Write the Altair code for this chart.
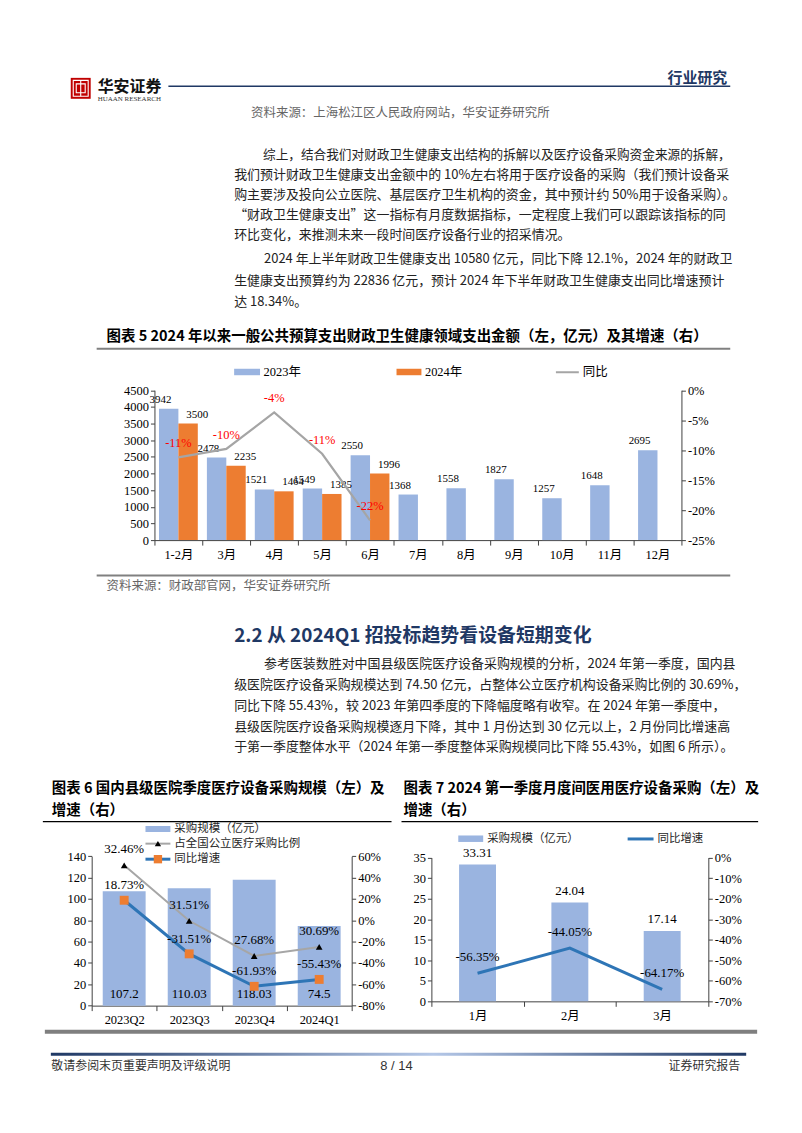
import altair as alt
import pandas as pd

# ---------------- data ----------------
months5 = ["1-2月", "3月", "4月", "5月", "6月", "7月", "8月", "9月", "10月", "11月", "12月"]
years5 = ["2023年", "2024年"]
spend2023 = [3942, 2478, 1521, 1549, 2550, 1368, 1558, 1827, 1257, 1648, 2695]
spend2024 = [3500, 2235, 1464, 1385, 1996]
yoy5 = [-11.2, -9.8, -3.7, -10.6, -21.7]
yoy5_labels = ["-11%", "-10%", "-4%", "-11%", "-22%"]
y5_left_ticks = [0, 500, 1000, 1500, 2000, 2500, 3000, 3500, 4000, 4500]
y5_right_ticks = [-25, -20, -15, -10, -5, 0]
legend5 = ["2023年", "2024年", "同比"]

quarters6 = ["2023Q2", "2023Q3", "2023Q4", "2024Q1"]
scale6 = [107.2, 110.03, 118.03, 74.5]
share6_plot = [51.5, -0.5, -33.5, -25.0]
share6_labels = ["32.46%", "31.51%", "27.68%", "30.69%"]
yoy6 = [18.73, -31.51, -61.93, -55.43]
y6_left_ticks = [0, 20, 40, 60, 80, 100, 120, 140]
y6_right_ticks = [-80, -60, -40, -20, 0, 20, 40, 60]
legend6 = ["采购规模（亿元）", "占全国公立医疗采购比例", "同比增速"]

months7 = ["1月", "2月", "3月"]
scale7 = [33.31, 24.04, 17.14]
yoy7 = [-56.35, -44.05, -64.17]
y7_left_ticks = [0, 5, 10, 15, 20, 25, 30, 35]
y7_right_ticks = [-70, -60, -50, -40, -30, -20, -10, 0]
legend7 = ["采购规模（亿元）", "同比增速"]

header_brand = "华安证券"
header_brand_en = "HUAAN RESEARCH"
header_tag = "行业研究"
src_top = "资料来源：上海松江区人民政府网站，华安证券研究所"
para1 = [
    "综上，结合我们对财政卫生健康支出结构的拆解以及医疗设备采购资金来源的拆解，",
    "我们预计财政卫生健康支出金额中的 10%左右将用于医疗设备的采购（我们预计设备采",
    "购主要涉及投向公立医院、基层医疗卫生机构的资金，其中预计约 50%用于设备采购）。",
    "“财政卫生健康支出”这一指标有月度数据指标，一定程度上我们可以跟踪该指标的同",
    "环比变化，来推测未来一段时间医疗设备行业的招采情况。",
]
para2 = [
    "2024 年上半年财政卫生健康支出 10580 亿元，同比下降 12.1%，2024 年的财政卫",
    "生健康支出预算约为 22836 亿元，预计 2024 年下半年财政卫生健康支出同比增速预计",
    "达 18.34%。",
]
title5 = "图表 5 2024 年以来一般公共预算支出财政卫生健康领域支出金额（左，亿元）及其增速（右）"
src5 = "资料来源：财政部官网，华安证券研究所"
heading22 = "2.2 从 2024Q1 招投标趋势看设备短期变化"
para3 = [
    "参考医装数胜对中国县级医院医疗设备采购规模的分析，2024 年第一季度，国内县",
    "级医院医疗设备采购规模达到 74.50 亿元，占整体公立医疗机构设备采购比例的 30.69%，",
    "同比下降 55.43%，较 2023 年第四季度的下降幅度略有收窄。在 2024 年第一季度中，",
    "县级医院医疗设备采购规模逐月下降，其中 1 月份达到 30 亿元以上，2 月份同比增速高",
    "于第一季度整体水平（2024 年第一季度整体采购规模同比下降 55.43%，如图 6 所示）。",
]
title6 = ["图表 6 国内县级医院季度医疗设备采购规模（左）及", "增速（右）"]
title7 = ["图表 7 2024 第一季度月度间医用医疗设备采购（左）及", "增速（右）"]
footer_left = "敬请参阅末页重要声明及评级说明"
footer_mid = "8 / 14"
footer_right = "证券研究报告"

# ---------------- style ----------------
W, H = 786, 1116
CJK = "Noto Sans CJK SC"
SERIF = "Liberation Serif, Noto Sans CJK SC"
SANS = "Liberation Sans, Noto Sans CJK SC"
BLUE_BAR = "#9AB4E0"
ORANGE = "#ED7D31"
GRAY_LINE = "#A5A5A5"
BLUE_LINE = "#2E75B6"
RED = "#FF0000"
NAVY = "#1F3864"
BODY = "#222222"
SRC = "#666666"
AXIS = "#404040"


def X(v):
    return round(v - 8, 2)


def Y(v):
    return round(v - 8, 2)


ONE = pd.DataFrame({"d": [0]})
layers = []


def text(s, x, y, size=13, color=BODY, weight="normal", align="left", font=CJK):
    layers.append(
        alt.Chart(ONE)
        .mark_text(text=s, align=align, baseline="middle", fontSize=size, font=font,
                   fontWeight=weight, color=color)
        .encode(x=alt.value(X(x)), y=alt.value(Y(y)))
    )


def hrule(x1, x2, y, color, width):
    layers.append(
        alt.Chart(ONE).mark_rule(color=color, strokeWidth=width)
        .encode(x=alt.value(X(x1)), x2=alt.value(X(x2)), y=alt.value(Y(y)))
    )


def vrule(x, y1, y2, color, width):
    layers.append(
        alt.Chart(ONE).mark_rule(color=color, strokeWidth=width)
        .encode(x=alt.value(X(x)), y=alt.value(Y(y1)), y2=alt.value(Y(y2)))
    )


def rect(x1, x2, y1, y2, **kw):
    layers.append(
        alt.Chart(ONE).mark_rect(**kw)
        .encode(x=alt.value(X(x1)), x2=alt.value(X(x2)), y=alt.value(Y(y1)), y2=alt.value(Y(y2)))
    )


def symbol(x, y, shape, color, size):
    layers.append(
        alt.Chart(ONE).mark_point(shape=shape, filled=True, color=color, size=size, opacity=1)
        .encode(x=alt.value(X(x)), y=alt.value(Y(y)))
    )


def make_axis(orient, offset, values=None, fmt=None, expr=None, band=False):
    kw = dict(orient=orient, offset=offset, title=None, grid=False, domainColor=AXIS,
              domainWidth=1, tickColor=AXIS, tickSize=4, tickWidth=1, labelFont=SERIF,
              labelFontSize=12.5, labelColor="#000000", labelPadding=2)
    if values is not None:
        kw["values"] = values
    if fmt is not None:
        kw["format"] = fmt
    if expr is not None:
        kw["labelExpr"] = expr
    if band:
        kw.update(tickBand="extent", labelAngle=0, labelPadding=3, tickSize=5)
    return alt.Axis(**kw)


def y_axis_layer(domain, rng, orient, x_page, values, fmt=None, expr=None):
    off = -X(x_page) if orient == "left" else X(x_page) - W
    layers.append(
        alt.Chart(ONE).mark_point(opacity=0).encode(
            x=alt.value(0),
            y=alt.Y("d:Q", scale=alt.Scale(domain=domain, range=rng, nice=False),
                    axis=make_axis(orient, off, values, fmt, expr)),
        )
    )


def x_axis_layer(cats, rng, y_page):
    df = pd.DataFrame({"c": cats})
    layers.append(
        alt.Chart(df).mark_point(opacity=0).encode(
            x=alt.X("c:N", scale=alt.Scale(type="band", domain=cats, range=rng,
                                           paddingInner=0, paddingOuter=0),
                    axis=make_axis("bottom", Y(y_page) - H, band=True)),
            y=alt.value(0),
        )
    )


def band_x(field, cats, rng, pi, po):
    return alt.X(f"{field}:N", scale=alt.Scale(type="band", domain=cats, range=rng,
                                               paddingInner=pi, paddingOuter=po), axis=None)


def lin_y(field, domain, rng):
    return alt.Y(f"{field}:Q", scale=alt.Scale(domain=domain, range=rng, nice=False), axis=None)


# ---------------- header ----------------
rect(68, 88, 73, 94, color="#C00000")
rect(70.5, 85.5, 75.5, 91.5, filled=False, stroke="white", strokeWidth=1.1)
rect(73.5, 82.5, 79, 88, filled=False, stroke="white", strokeWidth=1.1)
vrule(78, 75.5, 91.5, "white", 1.1)
text(header_brand, 95, 82, size=16, color="#111111", weight="bold")
text(header_brand_en, 95, 94.5, size=7, color="#333333", font="Liberation Serif")
hrule(166, 730, 81.5, NAVY, 1.5)
text(header_tag, 727, 73, size=15, color=NAVY, weight="bold", align="right")
text(src_top, 249, 108, size=12.5, color=SRC)

para1_pos = [(261, 150), (232, 170.3), (232, 190.6), (232, 210.9), (232, 231.2)]
for s, (x, y) in zip(para1, para1_pos):
    text(s, x, y, size=(12.7 if x > 250 else 13))
para2_pos = [(262, 255), (232, 276.5), (232, 298)]
for s, (x, y) in zip(para2, para2_pos):
    text(s, x, y)

# ---------------- chart 5 ----------------
text(title5, 104, 333, size=14.5, color="#000000", weight="bold")
hrule(94, 730, 345, "#808080", 2)

rect(232, 258, 365, 371.5, color=BLUE_BAR)
text(legend5[0], 261.5, 368.5, size=12.5, color="#000000", font=SERIF)
rect(395, 420, 365, 371.5, color=ORANGE)
text(legend5[1], 423.5, 368.5, size=12.5, color="#000000", font=SERIF)
hrule(555, 578, 368.5, GRAY_LINE, 2)
text(legend5[2], 582, 368.5, size=12.5, color="#000000", font=SERIF)

x5r = [X(152), X(681)]
y5r = [Y(537), Y(386.5)]
rows = [{"month": m, "year": years5[0], "value": v, "label": str(v)} for m, v in zip(months5, spend2023)]
rows += [{"month": m, "year": years5[1], "value": v, "label": str(v)} for m, v in zip(months5, spend2024)]
df5 = pd.DataFrame(rows)
df5y = pd.DataFrame({"month": months5[:len(yoy5)], "yoy": yoy5, "label": yoy5_labels})
xoff5 = alt.XOffset("year:N", scale=alt.Scale(domain=years5, paddingInner=0, paddingOuter=0))

layers.append(alt.Chart(df5).mark_bar().encode(
    x=band_x("month", months5, x5r, 0.19, 0.095),
    xOffset=xoff5,
    y=lin_y("value", [0, 4500], y5r),
    color=alt.Color("year:N", scale=alt.Scale(domain=years5, range=[BLUE_BAR, ORANGE]), legend=None),
))
for yr, nudge in zip(years5, [1.5, -0.5]):
    layers.append(alt.Chart(df5).transform_filter(alt.datum.year == yr).mark_text(
        baseline="alphabetic", dy=-6, dx=nudge, fontSize=11, font=SERIF, color="#000000").encode(
        x=band_x("month", months5, x5r, 0.19, 0.095),
        xOffset=xoff5,
        y=lin_y("value", [0, 4500], y5r),
        text="label:N",
    ))
layers.append(alt.Chart(df5y).mark_line(color=GRAY_LINE, strokeWidth=2.2).encode(
    x=band_x("month", months5, x5r, 0.19, 0.095),
    y=lin_y("yoy", [-25, 0], y5r),
))
layers.append(alt.Chart(df5y).mark_text(baseline="alphabetic", dy=-10, fontSize=12.5, font=SERIF,
                                        color=RED).encode(
    x=band_x("month", months5, x5r, 0.19, 0.095),
    y=lin_y("yoy", [-25, 0], y5r),
    text="label:N",
))
x_axis_layer(months5, x5r, 537)
y_axis_layer([0, 4500], y5r, "left", 152, y5_left_ticks, fmt="d")
y_axis_layer([-25, 0], y5r, "right", 681, y5_right_ticks, expr="datum.value + '%'")

hrule(94, 730, 572.5, "#808080", 2)
text(src5, 104, 583.5, size=12.5, color=SRC)

# ---------------- section 2.2 ----------------
text(heading22, 232, 633, size=19, color=NAVY, weight="bold")
para3_pos = [(262, 661.7), (232, 682.5), (232, 703.3), (232, 724.2), (232, 745)]
for s, (x, y) in zip(para3, para3_pos):
    text(s, x, y)

# ---------------- chart 6 ----------------
text(title6[0], 49, 786.5, size=14.5, color="#000000", weight="bold")
text(title6[1], 49, 808.5, size=14.5, color="#000000", weight="bold")
hrule(40, 390, 819.5, "#000000", 1.2)

rect(143, 168, 824, 830, color=BLUE_BAR)
text(legend6[0], 172, 827, size=11.5, color="#262626")
hrule(143, 168, 841.7, "#A6A6A6", 2)
symbol(155.5, 841.7, "triangle-up", "#000000", 40)
text(legend6[1], 172, 841.7, size=11.5, color="#262626")
hrule(143, 168, 857.3, BLUE_LINE, 3)
symbol(155.5, 857.3, "square", ORANGE, 70)
text(legend6[2], 172, 857.3, size=11.5, color="#262626")

x6r = [X(89), X(350)]
y6r = [Y(1004.3), Y(854.3)]
df6 = pd.DataFrame({
    "q": quarters6, "scale": scale6, "label": [str(v) for v in scale6],
    "share": share6_plot, "share_label": share6_labels,
    "yoy": yoy6, "yoy_label": [f"{v:.2f}%" for v in yoy6],
})
bx6 = lambda: band_x("q", quarters6, x6r, 0.34, 0.17)
layers.append(alt.Chart(df6).mark_bar(color=BLUE_BAR).encode(x=bx6(), y=lin_y("scale", [0, 140], y6r)))
layers.append(alt.Chart(df6).transform_calculate(base="0").mark_text(
    baseline="alphabetic", dy=-8, fontSize=13, font=SERIF, color="#000000").encode(
    x=bx6(), y=lin_y("base", [0, 140], y6r), text="label:N"))
layers.append(alt.Chart(df6).mark_line(color="#A6A6A6", strokeWidth=2).encode(
    x=bx6(), y=lin_y("share", [-80, 60], y6r)))
layers.append(alt.Chart(df6).mark_point(shape="triangle-up", filled=True, color="#000000", size=45,
                                        opacity=1).encode(x=bx6(), y=lin_y("share", [-80, 60], y6r)))
layers.append(alt.Chart(df6).mark_text(baseline="alphabetic", dy=-12, fontSize=13, font=SERIF,
                                       color="#000000").encode(
    x=bx6(), y=lin_y("share", [-80, 60], y6r), text="share_label:N"))
layers.append(alt.Chart(df6).mark_line(color=BLUE_LINE, strokeWidth=3).encode(
    x=bx6(), y=lin_y("yoy", [-80, 60], y6r)))
layers.append(alt.Chart(df6).mark_square(color=ORANGE, size=80, opacity=1).encode(
    x=bx6(), y=lin_y("yoy", [-80, 60], y6r)))
layers.append(alt.Chart(df6).mark_text(baseline="alphabetic", dy=-11, fontSize=13, font=SERIF,
                                       color="#000000").encode(
    x=bx6(), y=lin_y("yoy", [-80, 60], y6r), text="yoy_label:N"))
x_axis_layer(quarters6, x6r, 1004.3)
y_axis_layer([0, 140], y6r, "left", 89, y6_left_ticks, fmt="d")
y_axis_layer([-80, 60], y6r, "right", 350, y6_right_ticks, expr="datum.value + '%'")

# ---------------- chart 7 ----------------
text(title7[0], 402, 786.5, size=14.5, color="#000000", weight="bold")
text(title7[1], 402, 808.5, size=14.5, color="#000000", weight="bold")
hrule(400, 758, 819.5, "#000000", 1.2)

rect(457, 482, 833.5, 840, color=BLUE_BAR)
text(legend7[0], 486, 837, size=11.5, color="#262626")
hrule(627, 653, 837, BLUE_LINE, 3)
text(legend7[1], 657, 837, size=11.5, color="#262626")

x7r = [X(430), X(708)]
y7r = [Y(1000), Y(855.7)]
df7 = pd.DataFrame({
    "m": months7, "scale": scale7, "label": [str(v) for v in scale7],
    "yoy": yoy7, "yoy_label": [f"{v:.2f}%" for v in yoy7],
})
bx7 = lambda: band_x("m", months7, x7r, 0.6, 0.3)
layers.append(alt.Chart(df7).mark_bar(color=BLUE_BAR).encode(x=bx7(), y=lin_y("scale", [0, 35], y7r)))
layers.append(alt.Chart(df7).mark_text(baseline="alphabetic", dy=-8, fontSize=13, font=SERIF,
                                       color="#000000").encode(
    x=bx7(), y=lin_y("scale", [0, 35], y7r), text="label:N"))
layers.append(alt.Chart(df7).mark_line(color=BLUE_LINE, strokeWidth=3).encode(
    x=bx7(), y=lin_y("yoy", [-70, 0], y7r)))
layers.append(alt.Chart(df7).mark_text(baseline="alphabetic", dy=-12, fontSize=13, font=SERIF,
                                       color="#000000").encode(
    x=bx7(), y=lin_y("yoy", [-70, 0], y7r), text="yoy_label:N"))
x_axis_layer(months7, x7r, 1000)
y_axis_layer([0, 35], y7r, "left", 430, y7_left_ticks, fmt="d")
y_axis_layer([-70, 0], y7r, "right", 708, y7_right_ticks, expr="datum.value + '%'")

# ---------------- footer ----------------
rect(42, 757, 1028.5, 1032.5, color="#7F7F7F")
grad = alt.LinearGradient(gradient="linear", x1=0, x2=1, y1=0, y2=0, stops=[
    alt.GradientStop(color=NAVY, offset=0),
    alt.GradientStop(color="#B4C7E7", offset=0.55),
    alt.GradientStop(color=NAVY, offset=1),
])
rect(48, 746, 1051.5, 1054.5, color=grad)
text(footer_left, 48.5, 1065, size=12, color="#333333")
text(footer_mid, 395, 1065, size=13, color="#333333", align="center", font=SANS)
text(footer_right, 740, 1065, size=12, color="#333333", align="right")

chart = (
    alt.layer(*layers)
    .resolve_scale(x="independent", y="independent", xOffset="independent")
    .properties(width=W, height=H, padding=0, background="white")
    .configure_view(stroke=None)
)
chart.save("out.html", embed_options={"renderer": "svg", "actions": False})
